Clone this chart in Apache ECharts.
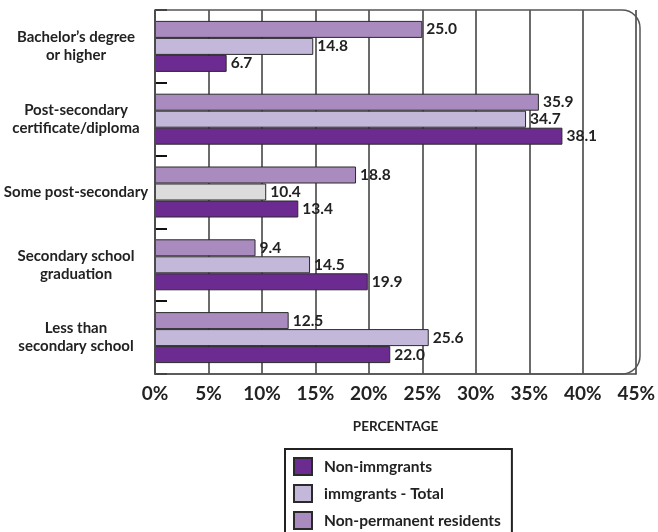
<!DOCTYPE html>
<html>
<head>
<meta charset="utf-8">
<script src="https://cdn.jsdelivr.net/npm/echarts@6/dist/echarts.min.js"></script>
<style>
  html, body { margin: 0; padding: 0; background: #fff; }
  #chart { width: 658px; height: 532px; }
</style>
</head>
<body>
<div id="chart"></div>
<script>
// categories, top to bottom
const categories = [
  'Bachelor\u2019s degree\nor higher',
  'Post-secondary\ncertificate/diploma',
  'Some post-secondary',
  'Secondary school\ngraduation',
  'Less than\nsecondary school'
]
const xTicks = ['0%', '5%', '10%', '15%', '20%', '25%', '30%', '35%', '40%', '45%']

const nonImmigrants = [6.7, 38.1, 13.4, 19.9, 22.0]
const immigrantsTotal = [14.8, 34.7, 10.4, 14.5, 25.6]
const nonPermanent = [25.0, 35.9, 18.8, 9.4, 12.5]

const seriesNames = ['Non-immgrants', 'immgrants - Total', 'Non-permanent residents']
const colors = ['#6b2b90', '#c4b8da', '#a98bc0']

const FONT = 'Lato'
const chart = echarts.init(document.getElementById('chart'))

const makeSeries = (name, values, color, idx) => ({
  name,
  type: 'bar',
  data: values.map((v, i) => {
    // the one grey bar in the original (Some post-secondary, immigrants total)
    if (idx === 1 && i === 2) return { value: v, itemStyle: { color: '#dcdcdc' } }
    return v
  }),
  barWidth: 17,
  barGap: '0%',
  z: 3,
  itemStyle: { color, borderColor: '#2a2a2a', borderWidth: 1 },
  label: {
    show: true,
    position: 'right',
    distance: 4,
    color: '#222',
    fontFamily: FONT,
    fontWeight: 'bold',
    fontSize: 15.5,
    formatter: p => p.value.toFixed(1),
  },
})

const option = {
  animation: false,
  backgroundColor: '#fff',
  grid: { left: 155, right: 18, top: 10, height: 364 },
  xAxis: {
    type: 'value',
    min: 0,
    max: 45,
    interval: 5,
    name: 'PERCENTAGE',
    nameLocation: 'middle',
    nameGap: 46,
    nameTextStyle: { fontFamily: FONT, fontWeight: 'bold', fontSize: 13.5, color: '#222' },
    axisLine: { show: true, lineStyle: { color: '#444', width: 1.5 } },
    axisTick: { show: false },
    axisLabel: {
      fontFamily: FONT,
      fontWeight: 'bold',
      fontSize: 19,
      color: '#222',
      margin: 10,
      formatter: (v) => xTicks[Math.round(v / 5)],
    },
    splitLine: { show: true, lineStyle: { color: '#3a3a3a', width: 1.5 } },
  },
  yAxis: {
    type: 'category',
    data: categories,
    inverse: true,
    axisLine: { show: true, lineStyle: { color: '#222', width: 1.5 } },
    axisTick: { show: true, inside: true, length: 12, lineStyle: { color: '#111', width: 2 } },
    axisLabel: {
      fontFamily: FONT,
      fontWeight: 'bold',
      fontSize: 15,
      lineHeight: 18,
      color: '#222',
      align: 'center',
      margin: 79,
    },
  },
  legend: {
    orient: 'vertical',
    left: 285,
    top: 449,
    height: 100,
    padding: [8, 11, 14, 8],
    icon: 'rect',
    itemWidth: 18,
    itemHeight: 17,
    itemGap: 8,
    borderColor: '#222',
    borderWidth: 2,
    data: seriesNames,
    textStyle: { fontFamily: FONT, fontWeight: 'bold', fontSize: 15.5, color: '#222', padding: [0, 0, 0, 7] },
  },
  graphic: [
    {
      // frame with the rounded right corners
      type: 'rect',
      z: 10,
      silent: true,
      shape: { x: 155, y: 10, width: 485, height: 364, r: [0, 18, 18, 0] },
      style: { fill: 'none', stroke: '#555', lineWidth: 1.5 },
    },
  ],
  series: [
    makeSeries(seriesNames[2], nonPermanent, colors[2], 2),
    makeSeries(seriesNames[1], immigrantsTotal, colors[1], 1),
    makeSeries(seriesNames[0], nonImmigrants, colors[0], 0),
  ],
}

chart.setOption(option)
</script>
</body>
</html>
